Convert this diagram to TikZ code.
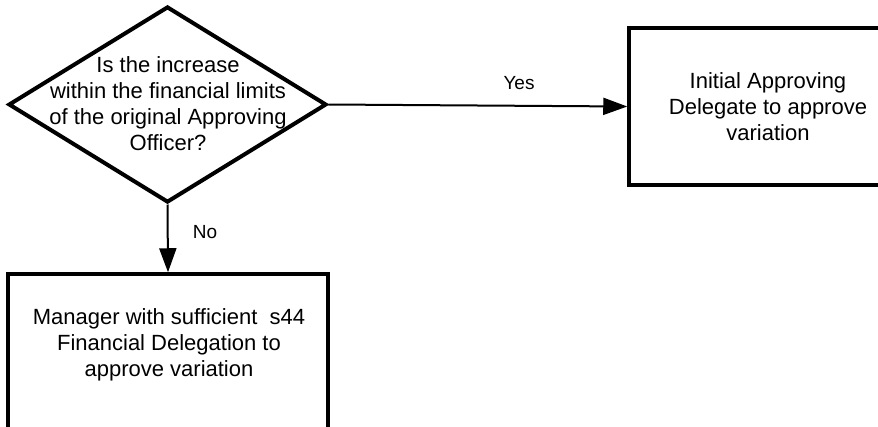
\documentclass[tikz,border=0pt]{standalone}
\usepackage{fontspec}
\setmainfont{Liberation Sans}
\usetikzlibrary{shapes.geometric,arrows.meta}

\tikzset{
  txt/.style={font=\fontsize{22pt}{26pt}\selectfont, align=center, inner sep=0pt},
  lbl/.style={font=\fontsize{19pt}{22pt}\selectfont, inner sep=0pt},
  decision/.style={diamond, draw, line width=4pt, inner sep=0pt, line join=miter},
  procbox/.style={rectangle, draw, line width=3.5pt, inner sep=0pt},
  flow/.style={line width=2pt, -{Triangle[length=24pt,width=17pt]}}
}

\begin{document}
\begin{tikzpicture}[x=1pt, y=-1pt]
  \path[use as bounding box] (0,0) rectangle (878,426);
  \clip (0,0) rectangle (878,426);

  % decision diamond and its question
  \node[decision, minimum width=318pt, minimum height=196pt] (dia) at (167.5,104.5) {};
  \node[txt] (diatext) at (168,104) {Is the increase\\within the financial limits\\of the original Approving\\Officer?};

  % outcome boxes
  \node[procbox, minimum width=278pt, minimum height=157pt] (ini) at (768,106.5) {};
  \node[txt] (initext) at (768,107) {Initial Approving\\Delegate to approve\\variation};

  \node[procbox, minimum width=320pt, minimum height=170pt] (mgr) at (168,359) {};
  \node[txt] (mgrtext) at (169,345) {Manager with sufficient\ \ s44\\Financial Delegation to\\approve variation};

  % connectors
  \draw[flow] (dia.east) -- (ini.west);
  \draw[flow] (dia.south) -- (mgr.north);

  % branch labels
  \node[lbl] (yes) at (519,83) {Yes};
  \node[lbl] (no) at (205,232) {No};
\end{tikzpicture}
\end{document}
